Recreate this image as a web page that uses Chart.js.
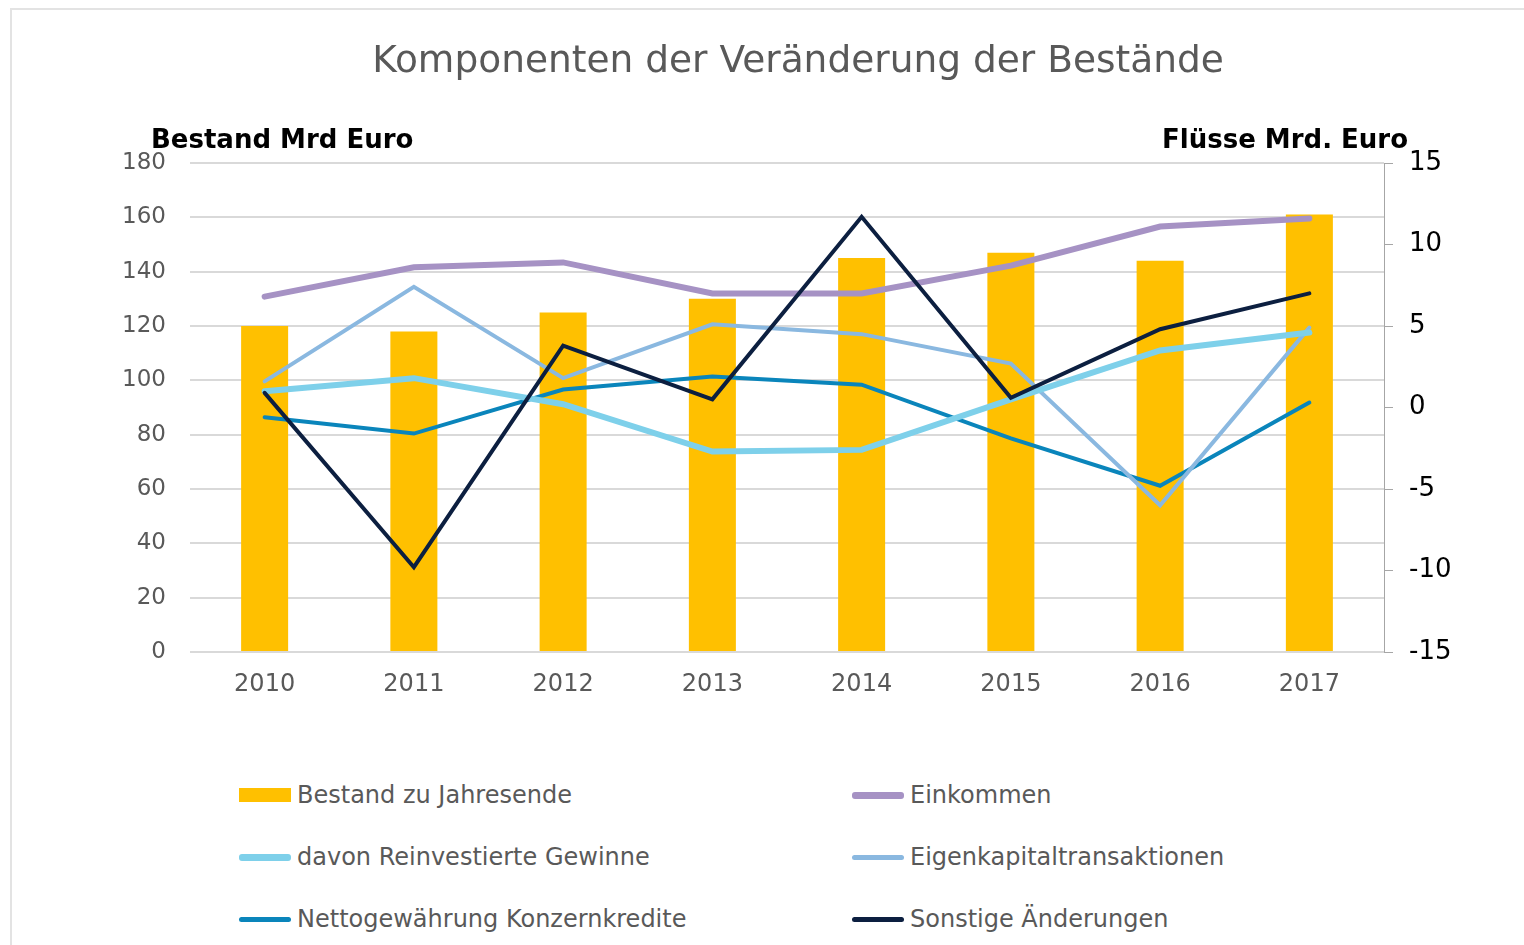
<!DOCTYPE html>
<html lang="de">
<head>
<meta charset="utf-8">
<title>Komponenten der Veränderung der Bestände</title>
<script src="https://cdn.jsdelivr.net/npm/chart.js@4.4.1/dist/chart.umd.min.js"></script>
<style>
  html, body { margin: 0; padding: 0; background: #fff; }
  body { width: 1524px; height: 945px; position: relative; overflow: hidden;
         font-family: 'DejaVu Sans', Verdana, sans-serif; }
  .rahmen { position: absolute; left: 10px; top: 8px; width: 1530px; height: 960px;
            border: 2px solid #e3e3e3; box-sizing: border-box; }
  #grafik { position: absolute; left: 0; top: 0; }
  .titel { position: absolute; left: 0; width: 1596px; top: 37px; text-align: center;
           font-size: 37.5px; color: #595959; }
  .achse { position: absolute; top: 124px; font-size: 26px; font-weight: bold; color: #000; }
  .legende { position: absolute; left: 239px; top: 775px; display: grid;
             grid-template-columns: 613px 500px; row-gap: 22px; }
  .eintrag { display: flex; align-items: center; height: 40px; font-size: 24px; color: #595959; }
  .muster { width: 52px; margin-right: 6px; border-radius: 3px; }
</style>
</head>
<body>
<div class="rahmen"></div>
<canvas id="grafik" width="1524" height="712"></canvas>
<div class="titel">Komponenten der Veränderung der Bestände</div>
<div class="achse" style="left:151px">Bestand Mrd Euro</div>
<div class="achse" style="left:1162px">Flüsse Mrd. Euro</div>
<div class="legende" id="legende"></div>

<script>
/* Daten */
const JAHRE = ['2010', '2011', '2012', '2013', '2014', '2015', '2016', '2017'];

// linke Achse: Bestand in Mrd Euro
const BESTAND = [120, 118, 125, 130, 145, 147, 144, 161];

// rechte Achse: Flüsse in Mrd. Euro
const EINKOMMEN      = [6.8, 8.6, 8.9, 7.0, 7.0, 8.7, 11.1, 11.6];
const REINVESTIERT   = [1.0, 1.8, 0.2, -2.7, -2.6, 0.5, 3.5, 4.6];
const EIGENKAPITAL   = [1.6, 7.4, 1.8, 5.1, 4.5, 2.7, -6.0, 4.9];
const KONZERNKREDITE = [-0.6, -1.6, 1.1, 1.9, 1.4, -1.9, -4.8, 0.3];
const SONSTIGE       = [0.9, -9.8, 3.8, 0.5, 11.7, 0.6, 4.8, 7.0];

const GRAU = '#595959';

function linie(label, data, farbe, breite) {
  return {
    type: 'line', label, data, yAxisID: 'y1',
    borderColor: farbe, backgroundColor: farbe, borderWidth: breite,
    pointRadius: 0, borderCapStyle: 'round', tension: 0, order: 0
  };
}

const datensaetze = [
  {
    type: 'bar', label: 'Bestand zu Jahresende', data: BESTAND, yAxisID: 'y',
    backgroundColor: '#FFC000', categoryPercentage: 1, barPercentage: 0.315, order: 1
  },
  linie('Einkommen', EINKOMMEN, '#A692C4', 6),
  linie('davon Reinvestierte Gewinne', REINVESTIERT, '#7ED0EA', 6),
  linie('Eigenkapitaltransaktionen', EIGENKAPITAL, '#8AB8E0', 4),
  linie('Nettogewährung Konzernkredite', KONZERNKREDITE, '#0A85BB', 4),
  linie('Sonstige Änderungen', SONSTIGE, '#0C1F40', 4)
];
// Sonstige Änderungen oben zeichnen
datensaetze[5].order = -1;

Chart.defaults.font.family = "'DejaVu Sans', Verdana, sans-serif";
Chart.defaults.animation = false;

const chart = new Chart(document.getElementById('grafik'), {
  data: { labels: JAHRE, datasets: datensaetze },
  options: {
    responsive: false,
    devicePixelRatio: 1,
    layout: { padding: { top: 163, left: 0, right: 0, bottom: 0 } },
    plugins: { legend: { display: false }, tooltip: { enabled: false } },
    scales: {
      x: {
        offset: true,
        grid: { display: false },
        border: { display: false },
        ticks: { color: GRAU, font: { size: 24 }, padding: 10 },
        afterFit(s) { s.height = 60; }
      },
      y: {
        position: 'left', min: 0, max: 180,
        ticks: { stepSize: 20, color: GRAU, font: { size: 23 }, padding: 24 },
        grid: { color: '#d9d9d9', lineWidth: 2, drawTicks: false },
        border: { display: false },
        afterFit(s) { s.width = 190; }
      },
      y1: {
        position: 'right', min: -15, max: 15,
        ticks: { stepSize: 5, color: '#000', font: { size: 26 }, padding: 16 },
        grid: { drawOnChartArea: false, color: '#a6a6a6', tickLength: 9 },
        border: { display: true, color: '#a6a6a6', width: 1 },
        afterFit(s) { s.width = 140; }
      }
    }
  }
});

/* Legende in zwei Spalten, aus den Datensätzen erzeugt */
document.getElementById('legende').innerHTML = datensaetze.map(ds => {
  const hoehe = ds.type === 'bar' ? 14 : ds.borderWidth + 1;
  const radius = ds.type === 'bar' ? 0 : 3;
  const farbe = ds.type === 'bar' ? ds.backgroundColor : ds.borderColor;
  return `<div class="eintrag"><span class="muster" style="height:${hoehe}px;background:${farbe};border-radius:${radius}px"></span>${ds.label}</div>`;
}).join('');
</script>
</body>
</html>
